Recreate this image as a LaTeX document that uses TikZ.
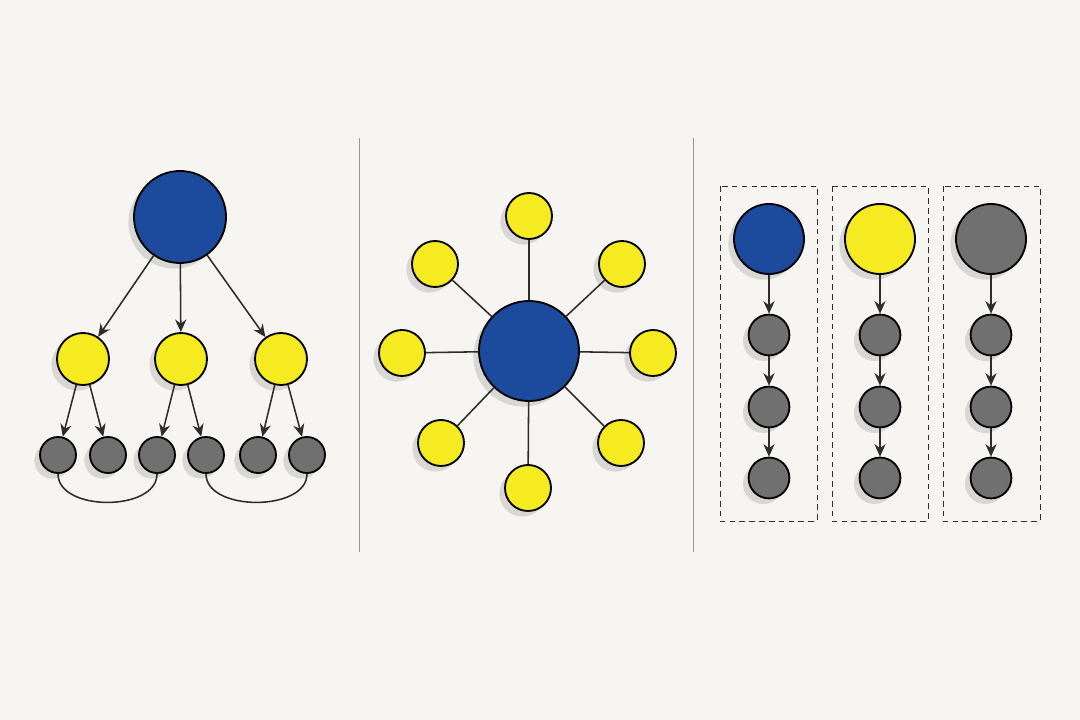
\documentclass[tikz,border=0pt]{standalone}
\usepackage{tikz}
\usetikzlibrary{arrows.meta}
\usetikzlibrary{shadows}
\definecolor{paper}{RGB}{247,245,241}
\definecolor{nodeblue}{RGB}{28,74,156}
\definecolor{nodeyellow}{RGB}{246,234,32}
\definecolor{nodegrey}{RGB}{112,112,112}
\definecolor{ink}{RGB}{45,45,45}
\tikzset{
	ball/.style={circle, draw=black, line width=1.3pt, inner sep=0pt,
		drop shadow={shadow xshift=-4pt, shadow yshift=-4pt, opacity=.12, fill=black}},
	blue ball/.style={ball, fill=nodeblue, minimum size=#1},
	yellow ball/.style={ball, fill=nodeyellow, minimum size=#1},
	grey ball/.style={ball, fill=nodegrey, minimum size=#1},
	link/.style={draw=ink, line width=1.1pt},
	link arrow/.style={link, -{Stealth[length=9pt, width=8pt, inset=3pt]}},
	divider/.style={draw=gray!80, line width=.7pt},
	lane box/.style={draw=ink, line width=.7pt, dash pattern=on 4pt off 3pt},
}
\begin{document}
\begin{tikzpicture}[x=0.025cm, y=-0.025cm]
	\fill[paper] (0,0) rectangle (1080,720);
	% tree
	\node[blue ball=2.3cm] (root) at (180,217) {};
	\node[yellow ball=1.3cm] (ya) at (83,359) {};
	\node[yellow ball=1.3cm] (yb) at (181,359) {};
	\node[yellow ball=1.3cm] (yc) at (281,359) {};
	\node[grey ball=.9cm] (la) at (58,455) {};
	\node[grey ball=.9cm] (lb) at (108,455) {};
	\node[grey ball=.9cm] (lc) at (157,455) {};
	\node[grey ball=.9cm] (ld) at (206,455) {};
	\node[grey ball=.9cm] (le) at (258,455) {};
	\node[grey ball=.9cm] (lf) at (307,455) {};
	\draw[link arrow] (root) -- (ya);
	\draw[link arrow] (root) -- (yb);
	\draw[link arrow] (root) -- (yc);
	\draw[link arrow] (ya) -- (la);
	\draw[link arrow] (ya) -- (lb);
	\draw[link arrow] (yb) -- (lc);
	\draw[link arrow] (yb) -- (ld);
	\draw[link arrow] (yc) -- (le);
	\draw[link arrow] (yc) -- (lf);
	\draw[link] (la.south) .. controls +(0,38) and +(0,38) .. (lc.south);
	\draw[link] (ld.south) .. controls +(0,38) and +(0,38) .. (lf.south);
	% dividers
	\draw[divider] (359,138) -- (359,552);
	\draw[divider] (693,138) -- (693,552);
	% star
	\node[blue ball=2.5cm] (hub) at (529,351) {};
	\node[yellow ball=1.15cm] (sn) at (529,216) {};
	\node[yellow ball=1.15cm] (sne) at (622,264) {};
	\node[yellow ball=1.15cm] (se) at (653,353) {};
	\node[yellow ball=1.15cm] (sse) at (621,443) {};
	\node[yellow ball=1.15cm] (ss) at (528,488) {};
	\node[yellow ball=1.15cm] (ssw) at (441,443) {};
	\node[yellow ball=1.15cm] (sw) at (402,353) {};
	\node[yellow ball=1.15cm] (snw) at (435,264) {};
	\draw[link] (hub) -- (sn);
	\draw[link] (hub) -- (sne);
	\draw[link] (hub) -- (se);
	\draw[link] (hub) -- (sse);
	\draw[link] (hub) -- (ss);
	\draw[link] (hub) -- (ssw);
	\draw[link] (hub) -- (sw);
	\draw[link] (hub) -- (snw);
	% lanes
	\draw[lane box] (720,186) rectangle (817,521);
	\draw[lane box] (832,186) rectangle (928,521);
	\draw[lane box] (943,186) rectangle (1040,521);
	\node[blue ball=1.75cm] (ta) at (769,239) {};
	\node[yellow ball=1.75cm] (tb) at (880,239) {};
	\node[grey ball=1.75cm] (tc) at (991,239) {};
	\node[grey ball=1.02cm] (a1) at (769,335) {};
	\node[grey ball=1.02cm] (a2) at (769,407) {};
	\node[grey ball=1.02cm] (a3) at (769,478) {};
	\node[grey ball=1.02cm] (b1) at (880,335) {};
	\node[grey ball=1.02cm] (b2) at (880,407) {};
	\node[grey ball=1.02cm] (b3) at (880,478) {};
	\node[grey ball=1.02cm] (c1) at (991,335) {};
	\node[grey ball=1.02cm] (c2) at (991,407) {};
	\node[grey ball=1.02cm] (c3) at (991,478) {};
	\draw[link arrow] (ta) -- (a1);
	\draw[link arrow] (a1) -- (a2);
	\draw[link arrow] (a2) -- (a3);
	\draw[link arrow] (tb) -- (b1);
	\draw[link arrow] (b1) -- (b2);
	\draw[link arrow] (b2) -- (b3);
	\draw[link arrow] (tc) -- (c1);
	\draw[link arrow] (c1) -- (c2);
	\draw[link arrow] (c2) -- (c3);
\end{tikzpicture}
\end{document}
